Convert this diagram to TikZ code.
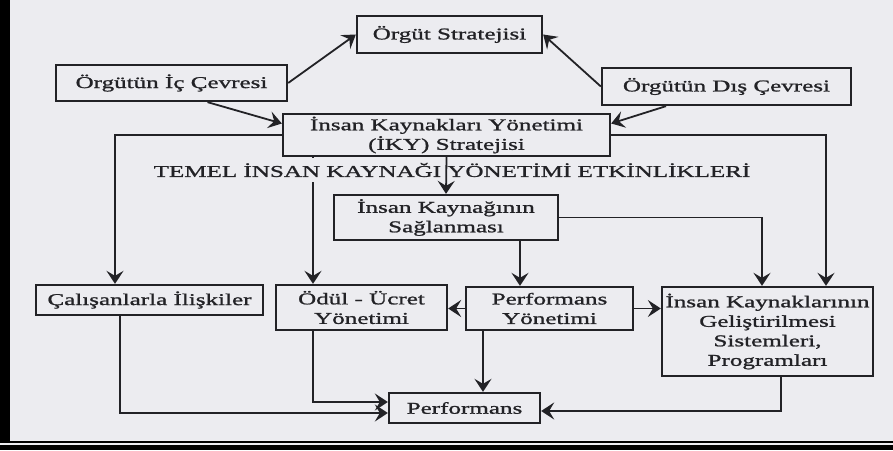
\documentclass[tikz,border=0pt]{standalone}
\usepackage{fontspec}
\setmainfont{Liberation Serif}[FakeStretch=1.52, FakeBold=1.2]
\usepackage{xcolor}
\usetikzlibrary{arrows.meta}
\definecolor{paper}{RGB}{236,236,240}
\definecolor{ink}{RGB}{34,34,38}

\begin{document}
\begin{tikzpicture}[
      x=1pt, y=-1pt,
      box/.style={draw=ink, line width=2.3pt, fill=paper, text=ink, align=center, inner sep=0pt,
        font=\fontsize{16.5}{19.5}\selectfont},
      title/.style={text=ink, fill=paper, inner xsep=2pt, inner ysep=5pt, font=\fontsize{16.5}{19.5}\selectfont},
      arr/.style={draw=ink, line width=1.8pt, -{Stealth[length=13pt, width=17pt, inset=5pt]}}
    ]
    \fill[paper] (0,0) rectangle (893,450);
    \useasboundingbox (0,0) rectangle (893,450);
    \fill[black] (0,0) rectangle (10,443);
    \fill[black] (10,440.5) rectangle (893,442.8);
    \fill[black] (0,445.3) rectangle (893,450);

    \node[box, minimum width=185pt, minimum height=37pt] (strat) at (449.5,34.5) {Örgüt Stratejisi};
    \node[box, minimum width=231pt, minimum height=36pt] (ic) at (171.5,83) {Örgütün İç Çevresi};
    \node[box, minimum width=249pt, minimum height=37pt] (dis) at (726.5,86.5) {Örgütün Dış Çevresi};
    \node[box, minimum width=327pt, minimum height=42pt] (iky) at (446.5,135) {İnsan Kaynakları Yönetimi\\(İKY) Stratejisi};

    \node[box, minimum width=224pt, minimum height=45pt] (sag) at (446,217.5) {İnsan Kaynağının\\Sağlanması};
    \node[box, minimum width=227pt, minimum height=30pt] (cal) at (149.5,300) {Çalışanlarla İlişkiler};
    \node[box, minimum width=171pt, minimum height=45pt] (odul) at (361.5,307.5) {Ödül - Ücret\\Yönetimi};
    \node[box, minimum width=167pt, minimum height=43pt] (pyon) at (549.5,308.5) {Performans\\Yönetimi};
    \node[box, minimum width=211pt, minimum height=89pt] (ikg) at (767.5,331.5) {İnsan Kaynaklarının\\Geliştirilmesi\\Sistemleri,\\Programları};
    \node[box, minimum width=151pt, minimum height=30pt] (perf) at (464.5,408) {Performans};

    \draw[arr] (ic.east) -- (strat.west);
    \draw[arr] (dis.west) -- (strat.east);
    \draw[arr] (ic.-28) -- (iky.176);
    \draw[arr] (dis.-162) -- (iky.4);
    \draw[arr] (iky.west) -| ([xshift=-34.5pt]cal.north);
    \draw[arr] (iky.east) -| ([xshift=58.5pt]ikg.north);
    \draw[arr] ([xshift=-48.5pt]odul.north |- iky.south) -- ([xshift=-48.5pt]odul.north);

    \node[title] (temel) at (452,170) {TEMEL İNSAN KAYNAĞI YÖNETİMİ ETKİNLİKLERİ};

    \draw[arr] (iky.south) -- (sag.north);
    \draw[arr] (sag.east) -| ([xshift=-5.5pt]ikg.north);
    \draw[arr] ([xshift=-29.5pt]pyon.north |- sag.south) -- ([xshift=-29.5pt]pyon.north);
    \draw[arr] (pyon.west) -- (pyon.west -| odul.east);
    \draw[arr] (pyon.east) -- (pyon.east -| ikg.west);
    \draw[arr] ([xshift=-66.5pt]pyon.south) -- ([xshift=-66.5pt]pyon.south |- perf.north);
    \draw[arr] ([xshift=-48.5pt]odul.south) |- ([yshift=6pt]perf.west);
    \draw[arr] ([xshift=-29.5pt]cal.south) |- ([yshift=-5pt]perf.west);
    \draw[arr] ([xshift=13.5pt]ikg.south) |- ([yshift=-3pt]perf.east);
  \end{tikzpicture}
\end{document}
